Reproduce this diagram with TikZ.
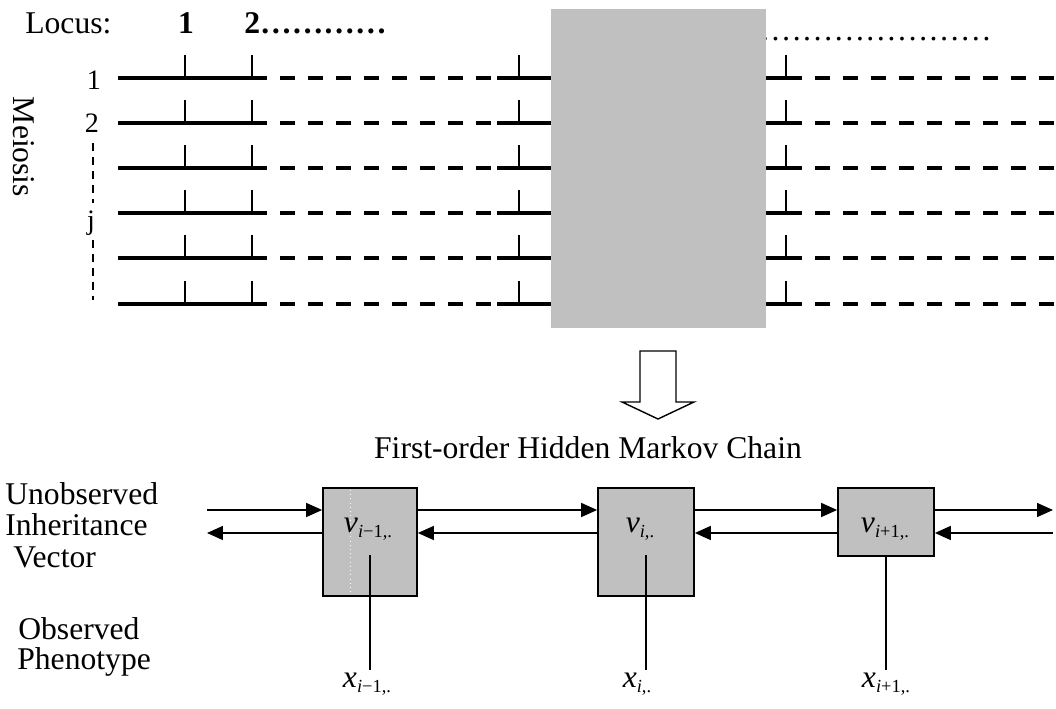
\documentclass[tikz,border=0pt]{standalone}
\usepackage{fontspec}
\setmainfont{Liberation Serif}
\usetikzlibrary{arrows.meta}
\definecolor{boxgray}{RGB}{192,192,192}
\newcommand{\hmmlbl}[2]{{\fontsize{18}{18}\selectfont\itshape #1}\raisebox{-0.6ex}{\fontsize{10.5}{10.5}\selectfont #2}}

\begin{document}
\begin{tikzpicture}[x=0.02cm,y=-0.02cm,
    txt/.style={font=\fontsize{18}{18}\selectfont,inner sep=0pt},
    smalltxt/.style={font=\fontsize{16}{16}\selectfont,inner sep=0pt},
    strand/.style={line width=0.07cm},
    gapline/.style={line width=0.07cm,dash pattern=on 0.3cm off 0.26cm},
    tick/.style={line width=0.03cm},
    sidedash/.style={line width=0.026cm,dash pattern=on 0.16cm off 0.12cm},
    hidden/.style={draw,line width=0.035cm,fill=boxgray,inner sep=0pt},
    link/.style={line width=0.03cm,-{Triangle[length=0.32cm,width=0.28cm]}},
    emit/.style={line width=0.035cm}]
  \useasboundingbox (0,0) rectangle (1056,709);

  \node[txt,anchor=base west] (locus) at (25,34) {Locus:};
  \node[txt,anchor=base] (locusone) at (186,34) {\textbf{1}};
  \node[txt,anchor=base west] (locustwo) at (244,34) {\textbf{2…………}};
  \node[txt,anchor=base east] (moredots) at (992,41) {……………………};

  \foreach \r in {78,123,168,213,258,304} {
    \draw[strand] (118,\r) -- (267,\r);
    \draw[gapline] (280,\r) -- (492,\r);
    \draw[strand] (497,\r) -- (551,\r);
    \draw[strand] (766,\r) -- (802,\r);
    \draw[gapline] (815,\r) -- (1056,\r);
    \foreach \t in {185,252,519,786}
      \draw[tick] (\t,\r-23) -- (\t,\r);
  }

  \fill[boxgray] (551,9) rectangle (766,328);

  \node[smalltxt,anchor=base] (mone) at (94,90) {1};
  \node[smalltxt,anchor=base] (mtwo) at (92,133) {2};
  \node[smalltxt,anchor=base] (mj) at (91,230) {j};
  \draw[sidedash] (93,143) -- (93,203) (93,240) -- (93,300);
  \node[txt,rotate=-90] (meiosis) at (24,147) {Meiosis};

  \draw[line width=0.028cm] (640,351) -- (676,351) -- (676,402) -- (694,402)
    -- (658,419) -- (622,402) -- (640,402) -- cycle;

  \node[txt,anchor=base] (hmmtitle) at (588,459) {First-order Hidden Markov Chain};

  \node[txt,anchor=base west] (unobs) at (5,505) {Unobserved};
  \node[txt,anchor=base west] (inher) at (5,536) {Inheritance};
  \node[txt,anchor=base west] (vect) at (13,568) {Vector};
  \node[txt,anchor=base west] (obs) at (18,640) {Observed};
  \node[txt,anchor=base west] (pheno) at (17,670) {Phenotype};

  \node[hidden,minimum width=1.88cm,minimum height=2.16cm] (vprev) at (370,542) {};
  \node[hidden,minimum width=1.92cm,minimum height=2.16cm] (vcur) at (646,542) {};
  \node[hidden,minimum width=1.92cm,minimum height=1.36cm] (vnext) at (886,522) {};
  \draw[white,dotted,line width=0.4pt] (350,490) -- (350,594);

  \node[anchor=base,inner sep=0pt] (vprevlbl) at (368,533) {\hmmlbl{v}{\textit{i}−1,.}};
  \node[anchor=base,inner sep=0pt] (vcurlbl) at (640,533) {\hmmlbl{v}{\textit{i},.}};
  \node[anchor=base,inner sep=0pt] (vnextlbl) at (885,533) {\hmmlbl{v}{\textit{i}+1,.}};

  \node[anchor=base,inner sep=1.5pt] (xprev) at (367,688) {\hmmlbl{x}{\textit{i}−1,.}};
  \node[anchor=base,inner sep=1.5pt] (xcur) at (637,688) {\hmmlbl{x}{\textit{i},.}};
  \node[anchor=base,inner sep=1.5pt] (xnext) at (886,688) {\hmmlbl{x}{\textit{i}+1,.}};

  \coordinate (inleft) at (207,510);
  \coordinate (outleft) at (207,533);
  \coordinate (inright) at (1053,510);
  \coordinate (outright) at (1053,533);

  \draw[link] (inleft) -- (vprev.west |- inleft);
  \draw[link] (vprev.west |- outleft) -- (outleft);
  \draw[link] (vprev.east |- inleft) -- (vcur.west |- inleft);
  \draw[link] (vcur.west |- outleft) -- (vprev.east |- outleft);
  \draw[link] (vcur.east |- inleft) -- (vnext.west |- inleft);
  \draw[link] (vnext.west |- outleft) -- (vcur.east |- outleft);
  \draw[link] (vnext.east |- inleft) -- (inright);
  \draw[link] (outright) -- (vnext.east |- outleft);

  \draw[emit] (vprev |- 0,555) -- (vprev |- xprev.north);
  \draw[emit] (vcur |- 0,555) -- (vcur |- xcur.north);
  \draw[emit] (vnext.south) -- (vnext |- xnext.north);
\end{tikzpicture}
\end{document}
